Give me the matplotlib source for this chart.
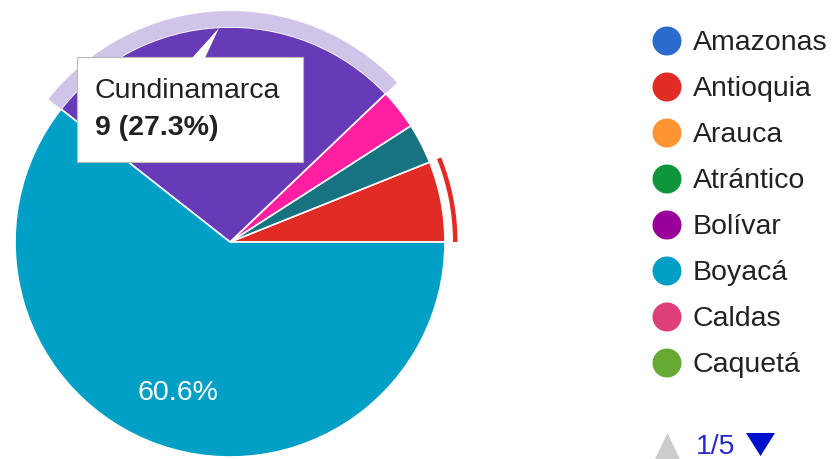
import matplotlib
matplotlib.use("Agg")
import matplotlib.pyplot as plt
from matplotlib.patches import Wedge, Circle, Polygon, Rectangle

# pie slices as drawn, counter-clockwise from 3 o'clock
slice_counts = [2, 1, 1, 9, 20]
slice_colors = ["#e12b25", "#16737f", "#ff1fa0", "#673ab7", "#00a0c6"]

# legend, page 1 of 5
legend_names = ["Amazonas", "Antioquia", "Arauca", "Atrántico",
                "Bolívar", "Boyacá", "Caldas", "Caquetá"]
legend_colors = ["#2b6bcc", "#e12b25", "#ff9433", "#0f963c",
                 "#990099", "#00a0c6", "#de3f7a", "#66aa33"]

hover_idx = 3
hover_name = "Cundinamarca"
selected_idx = 0
page_label = "1/5"

plt.rcParams["font.family"] = ["Liberation Sans", "DejaVu Sans"]
FS = 20.5
TEXT = "#222222"

fig = plt.figure(figsize=(8.34, 4.59), dpi=100)
ax = fig.add_axes([0, 0, 1, 1])

cx, cy, r = 230, 242, 215
total = sum(slice_counts)

# y axis points down, so counterclock=False turns counter-clockwise on screen
# only the big slice shows its label (the hovered one is under the tooltip)
wedges, texts, autotexts = ax.pie(
    slice_counts,
    colors=slice_colors,
    center=(cx, cy),
    radius=r,
    startangle=0,
    counterclock=False,
    frame=True,
    autopct=lambda p: f"{p:.1f}%" if p > 50 else "",
    pctdistance=0.745,
    wedgeprops=dict(edgecolor="white", linewidth=1.2),
    textprops=dict(color="white", fontsize=FS),
)

# slice angles on screen
cum = [0]
for c in slice_counts:
    cum.append(cum[-1] + c)
angles = [360 * c / total for c in cum]

# hover ring on the highlighted slice
a1, a2 = angles[hover_idx], angles[hover_idx + 1]
ax.add_patch(Wedge((cx, cy), 231, -a2, -a1, width=16, color="#d1c4e9", lw=0))

# selection arc on the selected slice
a1, a2 = angles[selected_idx], angles[selected_idx + 1]
ax.add_patch(Wedge((cx, cy), 227.5, -a2, -a1, width=4.5,
                   color=slice_colors[selected_idx], lw=0))

# tooltip
ax.add_patch(Rectangle((77, 57), 226, 105, facecolor="white",
                       edgecolor="#bbbbbb", lw=0.8, zorder=10))
ax.add_patch(Polygon([(192, 58), (219, 28), (205, 58)], closed=True,
                     facecolor="white", edgecolor="none", zorder=11))
pct = 100 * slice_counts[hover_idx] / total
ax.text(95, 98, hover_name, fontsize=FS, color=TEXT, va="baseline", zorder=12)
ax.text(95, 135, f"{slice_counts[hover_idx]} ({pct:.1f}%)", fontsize=FS,
        color=TEXT, fontweight="bold", va="baseline", zorder=12)

# legend
for i, (name, col) in enumerate(zip(legend_names, legend_colors)):
    y = 41 + 46 * i
    ax.add_patch(Circle((667, y), 14.5, color=col, lw=0))
    ax.text(693, y + 9.5, name, fontsize=FS, color=TEXT, va="baseline")

# pager
ax.add_patch(Polygon([(655, 459), (680, 459), (667.5, 433)], closed=True,
                     color="#cccccc", lw=0))
ax.text(696, 454, page_label, fontsize=FS, color="#2a2acc", va="baseline")
ax.add_patch(Polygon([(746, 433), (775, 433), (760.5, 456)], closed=True,
                     color="#0011cc", lw=0))

ax.set_xlim(0, 834)
ax.set_ylim(459, 0)
ax.set_aspect("equal")
ax.axis("off")

fig.savefig("out.png", dpi=100)
